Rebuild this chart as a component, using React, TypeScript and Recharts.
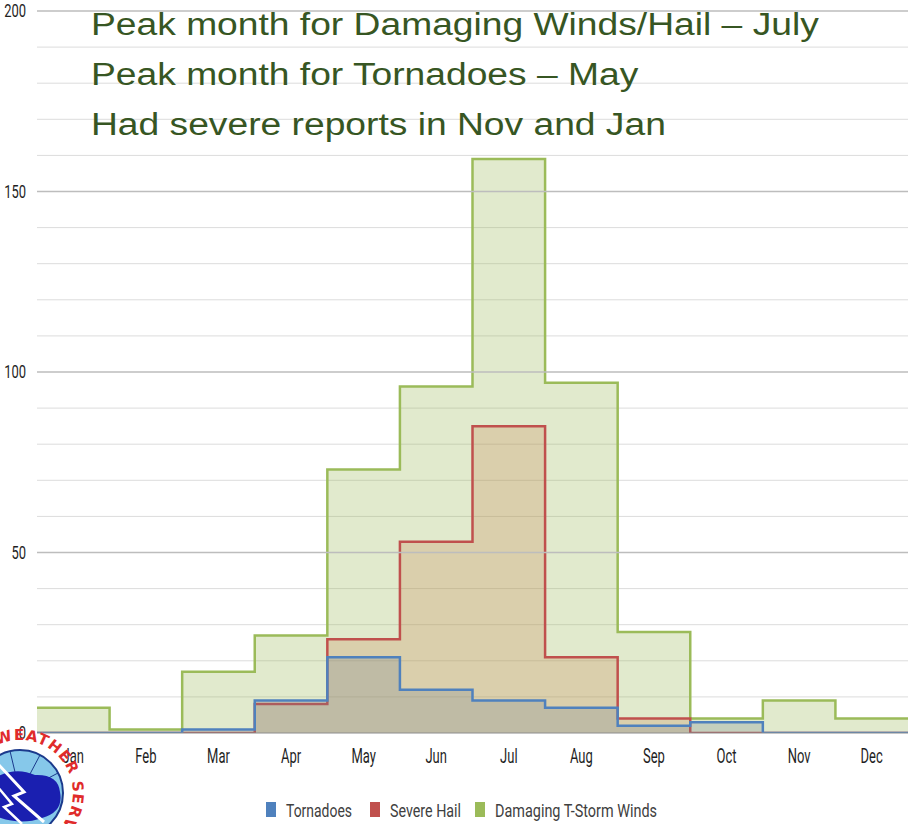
import { ComposedChart, Area, XAxis, YAxis, CartesianGrid, ReferenceLine, Legend } from "recharts";

const months = ["Jan", "Feb", "Mar", "Apr", "May", "Jun", "Jul", "Aug", "Sep", "Oct", "Nov", "Dec"];
const tornadoes = [0, 0, 1, 9, 21, 12, 9, 7, 2, 3, 0, 0];
const severeHail = [0, 0, 0, 8, 26, 53, 85, 21, 4, 0, 0, 0];
const tstormWinds = [7, 1, 17, 27, 73, 96, 159, 97, 28, 4, 9, 4];
const notes = [
  "Peak month for Damaging Winds/Hail \u2013 July",
  "Peak month for Tornadoes \u2013 May",
  "Had severe reports in Nov and Jan",
];

const series = [
  { key: "winds", name: "Damaging T-Storm Winds", color: "#9bbb59", fill: "#9bbb59", op: 0.3 },
  { key: "hail", name: "Severe Hail", color: "#c0504d", fill: "#c8804d", op: 0.25 },
  { key: "tornado", name: "Tornadoes", color: "#4f81bd", fill: "#6f7f8f", op: 0.25 },
];
// legend order, with the x where each swatch starts and the text width
const legendItems = [
  { key: "tornado", x: 266, w: 66 },
  { key: "hail", x: 370, w: 71 },
  { key: "winds", x: 475, w: 162 },
];

// step data: one point at the start of each month, last month repeated at the end
const data = months.map((m, i) => ({
  x: i,
  tornado: tornadoes[i],
  hail: severeHail[i],
  winds: tstormWinds[i],
}));
data.push({ x: 12, tornado: tornadoes[11], hail: severeHail[11], winds: tstormWinds[11] });

const font = "Roboto, 'DejaVu Sans', sans-serif";
const minorLines = [10, 20, 30, 40, 60, 70, 80, 90, 110, 120, 130, 140, 160, 170, 180, 190];

function MonthTick({ x, y, payload }: any) {
  return (
    <text transform={`translate(${x},${y + 22}) scale(0.65,1)`} textAnchor="middle" fill="#1f1f1f" fontSize={20} fontFamily={font}>
      {months[Math.floor(payload.value)]}
    </text>
  );
}

function ValueTick({ x, y, payload }: any) {
  return (
    <text transform={`translate(${x},${y + 6}) scale(0.72,1)`} textAnchor="end" fill="#1f1f1f" fontSize={18} fontFamily={font}>
      {payload.value}
    </text>
  );
}

function LegendBox() {
  return (
    <svg width={908} height={51} style={{ display: "block" }}>
      {legendItems.map((it) => {
        const s = series.find((x) => x.key === it.key)!;
        return (
          <g key={it.key}>
            <rect x={it.x} y={29} width={10} height={15} fill={s.color} />
            <text x={it.x + 20} y={44} fontSize={19} fontFamily={font} fill="#404040" textLength={it.w} lengthAdjust="spacingAndGlyphs">
              {s.name}
            </text>
          </g>
        );
      })}
    </svg>
  );
}

function Logo() {
  const cx = 20;
  const cy = 93;
  const r = 53;
  return (
    <svg width={110} height={124} style={{ position: "absolute", left: 0, top: 700 }}>
      <defs>
        <path id="ring" d={`M ${cx} ${cy + r} A ${r} ${r} 0 1 1 ${cx} ${cy - r} A ${r} ${r} 0 1 1 ${cx} ${cy + r}`} />
      </defs>
      <circle cx={cx} cy={cy} r={48} fill="#ffffff" />
      <circle cx={cx} cy={cy} r={43} fill="#86c8ea" stroke="#1b3a8c" strokeWidth={2} />
      <path d={`M ${cx} ${cy} L ${cx - 10} ${cy - 42} M ${cx} ${cy} L ${cx + 20} ${cy - 38} M ${cx} ${cy} L ${cx + 38} ${cy - 20}`} stroke="#1b3a8c" strokeWidth={1} />
      <path d="M -5 78 Q 15 66 35 75 Q 58 74 60 92 Q 64 112 42 118 Q 20 126 -5 116 Z" fill="#1a1fb0" />
      <path d="M -2 64 L 24 92 L 14 96 L 44 122" stroke="#ffffff" strokeWidth={3} fill="none" />
      <path d="M -8 80 L 12 104 L 4 107 L 22 124" stroke="#ffffff" strokeWidth={2.5} fill="none" />
      <text fontFamily="'DejaVu Sans', sans-serif" fontWeight="bold" fontSize={15} fill="#e02b2b" letterSpacing={1}>
        <textPath href="#ring" startOffset={43}>NATIONAL WEATHER SERVICE</textPath>
      </text>
    </svg>
  );
}

export default function App() {
  return (
    <div style={{ position: "absolute", left: 0, top: 0, width: 908, height: 824, background: "#fff", overflow: "hidden" }}>
      <ComposedChart width={908} height={824} data={data} margin={{ top: 11, right: 0, bottom: 0, left: 0 }}>
        <CartesianGrid horizontal={true} vertical={false} horizontalValues={minorLines} stroke="#dcdcdc" strokeWidth={1} />
        {[50, 100, 150, 200].map((v) => (
          <ReferenceLine key={v} y={v} stroke="#bdbdbd" strokeWidth={1.5} />
        ))}
        <XAxis
          dataKey="x"
          type="number"
          domain={[0, 12]}
          ticks={[0.5, 1.5, 2.5, 3.5, 4.5, 5.5, 6.5, 7.5, 8.5, 9.5, 10.5, 11.5]}
          axisLine={{ stroke: "#8c8c8c" }}
          tickLine={false}
          tick={<MonthTick />}
          height={40}
        />
        <YAxis
          domain={[0, 200]}
          ticks={[0, 50, 100, 150, 200]}
          width={37}
          axisLine={false}
          tickLine={false}
          tick={<ValueTick />}
          tickMargin={5}
          allowDataOverflow
        />
        {series.map((s) => (
          <Area
            key={s.key}
            dataKey={s.key}
            name={s.name}
            type="stepAfter"
            stroke={s.color}
            strokeWidth={2.5}
            fill={s.fill}
            fillOpacity={s.op}
            dot={false}
            activeDot={false}
            isAnimationActive={false}
          />
        ))}
        <Legend verticalAlign="bottom" height={51} content={() => <LegendBox />} />
      </ComposedChart>
      <div
        style={{
          position: "absolute",
          left: 91,
          top: 0,
          fontFamily: "'Liberation Sans', Arial, sans-serif",
          fontSize: 31,
          lineHeight: "50px",
          color: "#375623",
          transform: "scaleX(1.2)",
          transformOrigin: "0 0",
          whiteSpace: "nowrap",
        }}
      >
        {notes.map((n) => (
          <div key={n}>{n}</div>
        ))}
      </div>
      <Logo />
    </div>
  );
}
